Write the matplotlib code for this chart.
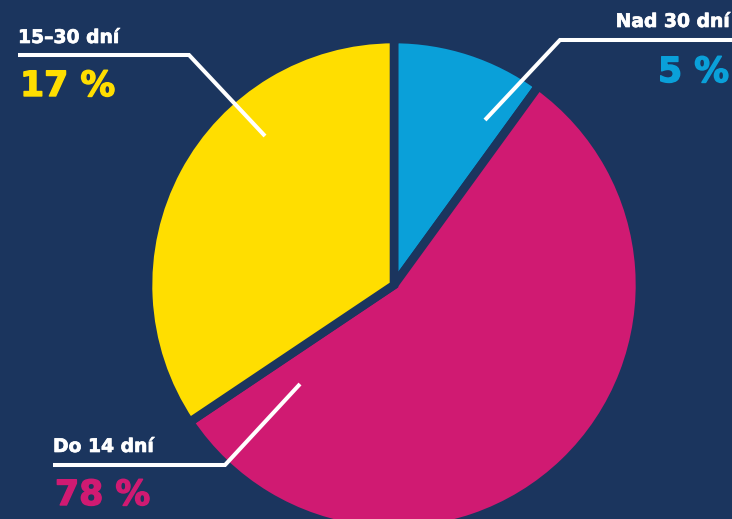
# Pie chart: payment days (navy background, leader lines)

import matplotlib.pyplot as plt
import matplotlib.patheffects as pe

# Data
categories = ["Nad 30 dní", "Do 14 dní", "15–30 dní"]
label_values = [5, 78, 17]          # values printed in labels
wedge_sizes = [10, 55.6, 34.4]      # slice sizes as drawn in the picture
colors = ["#0aa0d9", "#d01a72", "#ffde00"]

BG = "#1b355e"
W, H = 732, 519

fig = plt.figure(figsize=(W / 100, H / 100), dpi=100, facecolor=BG)
ax = fig.add_axes([0, 0, 1, 1])
ax.set_facecolor(BG)

# pixel y (from top) -> data y
def py(y):
    return H - y

ax.pie(wedge_sizes, colors=colors, startangle=90, counterclock=False,
       center=(394, py(285)), radius=246, frame=True,
       wedgeprops=dict(edgecolor=BG, linewidth=6.2, joinstyle="miter"))
ax.set_xlim(0, W)
ax.set_ylim(0, H)
ax.set_aspect("equal")
ax.axis("off")

# Leader lines
lw = 2.9
ax.plot([732, 560, 485], [py(40), py(40), py(120)], color="white", lw=lw,
        solid_joinstyle="miter", solid_capstyle="butt")
ax.plot([18, 189, 265], [py(55), py(55), py(136)], color="white", lw=lw,
        solid_joinstyle="miter", solid_capstyle="butt")
ax.plot([53, 225, 300], [py(465), py(465), py(384)], color="white", lw=lw,
        solid_joinstyle="miter", solid_capstyle="butt")

# Labels
font = "DejaVu Sans"
lab_size = 13.5
pct_size = 25


def heavy(c, w):
    return [pe.withStroke(linewidth=w, foreground=c)]


ax.text(730, py(27), categories[0], color="white", fontsize=lab_size,
        fontweight="bold", family=font, ha="right", va="baseline",
        path_effects=heavy("white", 0.5))
ax.text(729, py(82), f"{label_values[0]} %", color=colors[0], fontsize=pct_size,
        fontweight="bold", family=font, ha="right", va="baseline",
        path_effects=heavy(colors[0], 1.0))

ax.text(18, py(43), categories[2], color="white", fontsize=lab_size,
        fontweight="bold", family=font, ha="left", va="baseline",
        path_effects=heavy("white", 0.5))
ax.text(20, py(96), f"{label_values[2]} %", color=colors[2], fontsize=pct_size,
        fontweight="bold", family=font, ha="left", va="baseline",
        path_effects=heavy(colors[2], 1.0))

ax.text(53, py(452), categories[1], color="white", fontsize=lab_size,
        fontweight="bold", family=font, ha="left", va="baseline",
        path_effects=heavy("white", 0.5))
ax.text(55, py(505), f"{label_values[1]} %", color=colors[1], fontsize=pct_size,
        fontweight="bold", family=font, ha="left", va="baseline",
        path_effects=heavy(colors[1], 1.0))

fig.savefig("out.png", dpi=100, facecolor=BG)
